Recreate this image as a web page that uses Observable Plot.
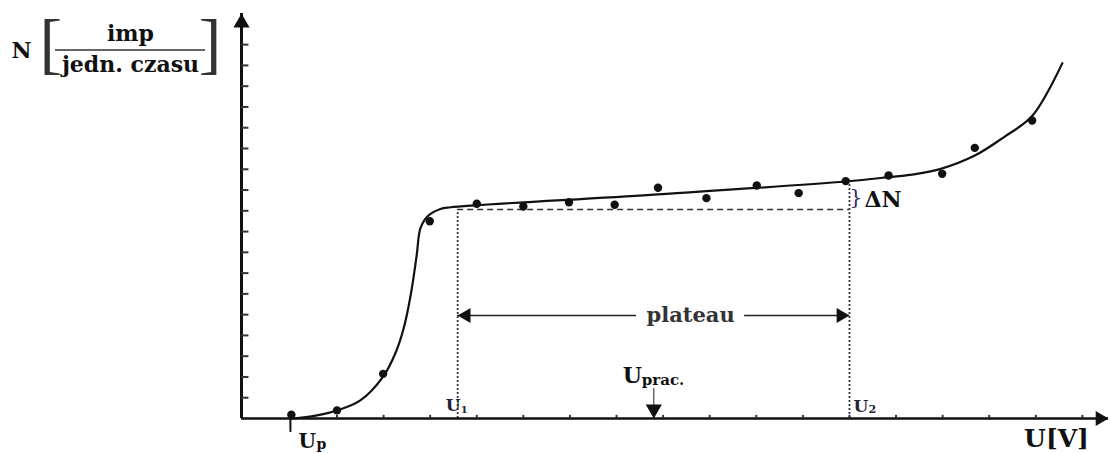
<!DOCTYPE html>
<html><head><meta charset="utf-8">
<script src="https://cdn.jsdelivr.net/npm/d3@7"></script>
<script src="https://cdn.jsdelivr.net/npm/@observablehq/plot@0.6"></script>
<style>body{margin:0;background:#fff} #chart svg{display:block}</style>
</head><body><div id="chart"></div>
<script>
// ---- data (x in tick units of U, y in tick units of N) ----
const xTicks = [0,1,2,3,4,5,6,7,8,9,10,11,12,13,14,15,16,17];
const yTicks = [1,2,3,4,5,6,7,8,9,10,11,12,13,14,15,16,17,18];
const measU = [0.02,1.00,1.99,2.99,4.00,5.00,5.98,6.96,7.89,8.93,10.01,10.91,11.92,12.84,13.99,14.69,15.92];
const measN = [0.18,0.39,2.15,9.50,10.34,10.21,10.41,10.29,11.11,10.61,11.22,10.85,11.43,11.70,11.78,13.03,14.35];
const fitU = [0.04,0.54,1.00,1.50,1.99,2.26,2.43,2.58,2.71,2.79,2.94,3.22,3.44,7.73,11.92,12.84,13.42,13.96,14.69,15.31,15.93,16.57];
const fitN = [0.00,0.14,0.385,0.87,2.02,3.18,4.33,5.92,7.85,9.15,9.73,10.09,10.17,10.77,11.41,11.62,11.77,12.02,12.66,13.54,14.59,17.11];
const Up = 0, U1 = 3.59, U2 = 12, Uprac = 7.8;
const plateauLevel = 10.06, deltaTop = 11.41, plateauArrowN = 4.96, plateauLabelU = 8.59;
const labels = {yMain: "N", yNum: "imp", yDen: "jedn. czasu", x: "U[V]", plateau: "plateau", dN: "ΔN"};

const xMin = -1.05, xEnd = 17.56, yEnd = 19.5;
const meas = measU.map((u, i) => ({u, n: measN[i]}));
const fit = fitU.map((u, i) => ({u, n: fitN[i]}));
const verticals = [{u: U1, top: plateauLevel}, {u: U2, top: deltaTop}];
const plateauSegs = [{a: U1, b: plateauLabelU - 1.16}, {a: plateauLabelU + 1.16, b: U2}];

const ink = "#111";
const F = "DejaVu Serif";
const tip = r => 2 * Math.sqrt(Math.PI * r * r / (3 * Math.sqrt(3)));

const plot = Plot.plot({
  width: 1110, height: 453,
  marginLeft: 241, marginRight: 2, marginTop: 13, marginBottom: 35,
  x: {domain: [xMin, xEnd], axis: null},
  y: {domain: [0, yEnd], axis: null},
  style: {fontFamily: F, background: "#fff", overflow: "visible", color: ink},
  marks: [
    // guide lines
    Plot.ruleY([plateauLevel], {x1: U1, x2: U2, stroke: "#333", strokeWidth: 1.4, strokeDasharray: "6,4"}),
    Plot.ruleX(verticals, {x: "u", y1: 0, y2: "top", stroke: "#334", strokeWidth: 1.8, strokeDasharray: "2,2"}),
    // plateau arrow
    Plot.ruleY(plateauSegs, {y: () => plateauArrowN, x1: "a", x2: "b", stroke: "#222", strokeWidth: 1.6}),
    Plot.dot([U1], {x: d => d, y: () => plateauArrowN, symbol: "triangle", r: 5.5, rotate: -90, dx: tip(5.5), fill: ink, stroke: "none"}),
    Plot.dot([U2], {x: d => d, y: () => plateauArrowN, symbol: "triangle", r: 5.5, rotate: 90, dx: -tip(5.5), fill: ink, stroke: "none"}),
    Plot.text([labels.plateau], {x: () => plateauLabelU, y: () => plateauArrowN, text: d => d, fontSize: 21, fontWeight: "bold", fill: "#333", lineAnchor: "middle"}),
    // axes
    Plot.ruleY([0], {x1: xMin, x2: xEnd, stroke: ink, strokeWidth: 2.5}),
    Plot.ruleX([xMin], {y1: 0, y2: yEnd, stroke: ink, strokeWidth: 3}),
    Plot.ruleY(yTicks, {x1: xMin, x2: xMin + 0.16, stroke: "#333", strokeWidth: 2}),
    Plot.ruleX(xTicks, {y1: 0, y2: 0.15, stroke: "#333", strokeWidth: 2}),
    Plot.ruleX([Up], {y1: 0.2, y2: -0.67, stroke: ink, strokeWidth: 2}),
    Plot.dot([xEnd], {x: d => d, y: () => 0, symbol: "triangle", r: 5.5, rotate: 90, dx: -tip(5.5), fill: ink, stroke: "none"}),
    Plot.dot([yEnd], {x: () => xMin, y: d => d, symbol: "triangle", r: 6, dy: tip(6), fill: ink, stroke: "none"}),
    // U_prac arrow
    Plot.ruleX([Uprac], {y1: 0, y2: 1.44, stroke: "#222", strokeWidth: 1}),
    Plot.dot([Uprac], {x: d => d, y: () => 0, symbol: "triangle", r: 6, rotate: 180, dy: -tip(6), fill: ink, stroke: "none"}),
    // curve and points
    Plot.line(fit, {x: "u", y: "n", curve: "catmull-rom", stroke: ink, strokeWidth: 2.2}),
    Plot.dot(meas, {x: "u", y: "n", r: 4.2, fill: ink, stroke: "none"}),
    // labels on x axis
    Plot.text(["U"], {x: () => U1, y: () => 0, text: d => d, textAnchor: "start", lineAnchor: "bottom", dx: -12, dy: -8, fontSize: 17, fontWeight: "bold", fill: "#223"}),
    Plot.text(["1"], {x: () => U1, y: () => 0, text: d => d, textAnchor: "start", lineAnchor: "bottom", dx: 3, dy: -6, fontSize: 10, fontWeight: "bold", fill: "#223"}),
    Plot.text(["U"], {x: () => U2, y: () => 0, text: d => d, textAnchor: "start", lineAnchor: "bottom", dx: 4, dy: -7, fontSize: 17, fontWeight: "bold", fill: "#223"}),
    Plot.text(["2"], {x: () => U2, y: () => 0, text: d => d, textAnchor: "start", lineAnchor: "bottom", dx: 19, dy: -6, fontSize: 11, fontWeight: "bold", fill: "#223"}),
    Plot.text(["U"], {x: () => Uprac, y: () => 0, text: d => d, textAnchor: "start", lineAnchor: "bottom", dx: -31, dy: -36, fontSize: 22, fontWeight: "bold", fill: ink}),
    Plot.text(["prac."], {x: () => Uprac, y: () => 0, text: d => d, textAnchor: "start", lineAnchor: "bottom", dx: -12, dy: -34, fontSize: 15, fontWeight: "bold", fill: ink}),
    Plot.text(["U"], {x: () => Up, y: () => 0, text: d => d, textAnchor: "start", lineAnchor: "bottom", dx: 8, dy: 29, fontSize: 20, fontWeight: "bold", fill: ink}),
    Plot.text(["p"], {x: () => Up, y: () => 0, text: d => d, textAnchor: "start", lineAnchor: "bottom", dx: 26, dy: 30, fontSize: 14, fontWeight: "bold", fill: ink}),
    Plot.text([labels.x], {x: () => xEnd, y: () => 0, text: d => d, textAnchor: "middle", lineAnchor: "bottom", dx: -52, dy: 28, fontSize: 25, fontWeight: "bold", fill: ink}),
    // delta N
    Plot.text(["}"], {x: () => U2, y: () => plateauLevel, text: d => d, textAnchor: "start", lineAnchor: "bottom", dx: 0, dy: -6, fontSize: 20, fill: "#2a2a66"}),
    Plot.text([labels.dN], {x: () => U2, y: () => plateauLevel, text: d => d, textAnchor: "start", lineAnchor: "bottom", dx: 15, dy: -3, fontSize: 22, fontWeight: "bold", fill: ink}),
    // y label
    Plot.text([labels.yMain], {frameAnchor: "top-left", text: d => d, textAnchor: "middle", lineAnchor: "bottom", dx: -220, dy: 44, fontSize: 22, fontWeight: "bold", fill: ink}),
    Plot.text([labels.yNum], {frameAnchor: "top-left", text: d => d, textAnchor: "middle", lineAnchor: "bottom", dx: -111, dy: 27, fontSize: 22, fontWeight: "bold", fill: ink}),
    Plot.text([labels.yDen], {frameAnchor: "top-left", text: d => d, textAnchor: "middle", lineAnchor: "bottom", dx: -111, dy: 58, fontSize: 22, fontWeight: "bold", fill: ink}),
    Plot.text(["["], {frameAnchor: "top-left", text: d => d, textAnchor: "start", lineAnchor: "bottom", dx: -202, dy: 52, fontSize: 68, fontFamily: "Liberation Serif", fill: "#333"}),
    Plot.text(["]"], {frameAnchor: "top-left", text: d => d, textAnchor: "end", lineAnchor: "bottom", dx: -20, dy: 52, fontSize: 68, fontFamily: "Liberation Serif", fill: "#333"})
  ]
});
// fraction bar of the y label
d3.select(plot).append("line")
  .attr("x1", 55).attr("x2", 205).attr("y1", 50).attr("y2", 50)
  .attr("stroke", "#333").attr("stroke-width", 1.6);
document.getElementById("chart").appendChild(plot);
</script>
</body></html>
